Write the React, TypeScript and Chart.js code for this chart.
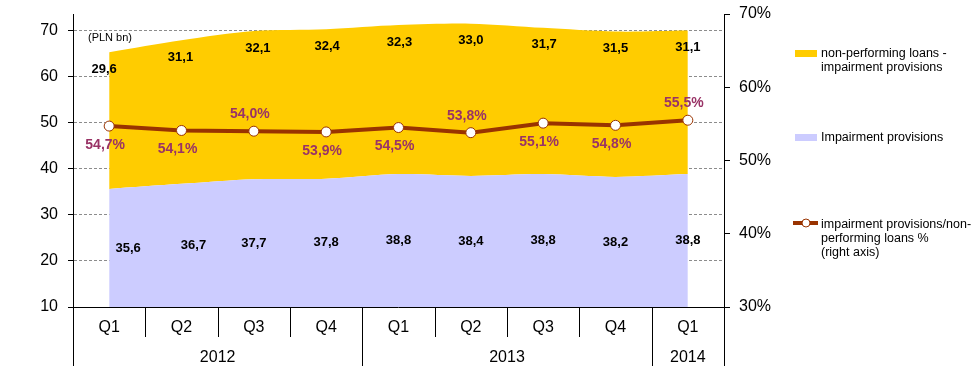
import { useEffect, useRef } from 'react';
import { Chart, registerables } from 'chart.js';

Chart.register(...registerables);

const quarters = ['Q1', 'Q2', 'Q3', 'Q4', 'Q1', 'Q2', 'Q3', 'Q4', 'Q1'];
const yearLabels = ['2012', '2013', '2014'];
const yearSpans = [4, 4, 1];
const impairmentProvisions = [35.6, 36.7, 37.7, 37.8, 38.8, 38.4, 38.8, 38.2, 38.8];
const nplMinusProvisions = [29.6, 31.1, 32.1, 32.4, 32.3, 33.0, 31.7, 31.5, 31.1];
const coverageRatio = [54.7, 54.1, 54.0, 53.9, 54.5, 53.8, 55.1, 54.8, 55.5];
const leftTicks = [10, 20, 30, 40, 50, 60, 70];
const rightTicks = [30, 40, 50, 60, 70];

const FONT = "'Liberation Sans', Arial, sans-serif";
const YELLOW = '#FFCC00';
const LAVENDER = '#CCCCFF';
const LINE = '#993300';
const PCT = '#993366';

const fmt = (v: number) => v.toFixed(1).replace('.', ',');

const overlayPlugin = {
  id: 'overlay',
  afterDatasetsDraw(chart: any) {
    const ctx = chart.ctx;
    const x = chart.scales.x;
    const y = chart.scales.y;
    const y1 = chart.scales.y1;
    ctx.save();
    ctx.textAlign = 'center';
    ctx.textBaseline = 'middle';
    ctx.fillStyle = '#000';
    ctx.font = `bold 13px ${FONT}`;
    const blueDx = [19, 12, 0, 0, 0, 0, 0, 0, 0];
    const yellowDx = [-5, -1, 4, 1, 1, 0, 1, 0, 0];
    impairmentProvisions.forEach((v, i) => {
      const px = x.getPixelForValue(i) + blueDx[i];
      const py = y.getPixelForValue((10 + v) / 2);
      ctx.fillText(fmt(v), px, py);
    });
    nplMinusProvisions.forEach((v, i) => {
      const px = x.getPixelForValue(i) + yellowDx[i];
      const py = y.getPixelForValue(v + impairmentProvisions[i]) + 17;
      ctx.fillText(fmt(v), px, py);
    });
    ctx.fillStyle = PCT;
    ctx.font = `bold 14px ${FONT}`;
    const above = [2, 5, 8];
    coverageRatio.forEach((v, i) => {
      const px = x.getPixelForValue(i) - 4;
      const pyp = y1.getPixelForValue(v);
      const py = above.includes(i) ? pyp - 17 : pyp + 19;
      ctx.fillText(fmt(v) + '%', px, py);
    });
    ctx.restore();
  },
  afterDraw(chart: any) {
    const ctx = chart.ctx;
    const area = chart.chartArea;
    const x = chart.scales.x;
    const H = chart.height;
    const al = (v: number) => Math.round(v) + 0.5;
    ctx.save();
    ctx.strokeStyle = '#000';
    ctx.lineWidth = 1;
    ctx.beginPath();
    ctx.moveTo(area.left, al(area.bottom));
    ctx.lineTo(area.right, al(area.bottom));
    ctx.stroke();
    ctx.beginPath();
    ctx.moveTo(al(area.left), area.bottom);
    ctx.lineTo(al(area.left), H);
    ctx.moveTo(al(area.right), area.bottom);
    ctx.lineTo(al(area.right), H);
    ctx.stroke();
    const yearEnds: number[] = [];
    let acc = 0;
    yearSpans.forEach((s) => { acc += s; yearEnds.push(acc - 1); });
    for (let i = 0; i < quarters.length - 1; i++) {
      const bx = al((x.getPixelForValue(i) + x.getPixelForValue(i + 1)) / 2);
      const full = yearEnds.includes(i);
      ctx.beginPath();
      ctx.moveTo(bx, area.bottom);
      ctx.lineTo(bx, full ? H : area.bottom + 30);
      ctx.stroke();
    }
    ctx.fillStyle = '#000';
    ctx.textAlign = 'center';
    ctx.textBaseline = 'middle';
    ctx.font = `16px ${FONT}`;
    quarters.forEach((q, i) => {
      ctx.fillText(q, x.getPixelForValue(i), area.bottom + 21);
    });
    let start = 0;
    const half = (x.getPixelForValue(1) - x.getPixelForValue(0)) / 2;
    yearLabels.forEach((lab, k) => {
      const end = start + yearSpans[k] - 1;
      const x0 = x.getPixelForValue(start) - half;
      const x1 = x.getPixelForValue(end) + half;
      ctx.fillText(lab, (x0 + x1) / 2, area.bottom + 51);
      start = end + 1;
    });
    ctx.textAlign = 'left';
    ctx.font = `11px ${FONT}`;
    ctx.fillText('(PLN bn)', area.left + 15, area.top + 24);
    const lx = area.right + 71;
    const tx = lx + 26;
    ctx.font = `12.5px ${FONT}`;
    ctx.fillStyle = YELLOW;
    ctx.fillRect(lx, 50, 22, 7);
    ctx.fillStyle = '#000';
    ctx.fillText('non-performing loans -', tx, 54);
    ctx.fillText('impairment provisions', tx, 68);
    ctx.fillStyle = LAVENDER;
    ctx.fillRect(lx, 134, 22, 7);
    ctx.fillStyle = '#000';
    ctx.fillText('Impairment provisions', tx, 138);
    ctx.strokeStyle = LINE;
    ctx.lineWidth = 4;
    ctx.beginPath();
    ctx.moveTo(lx - 2, 223);
    ctx.lineTo(lx + 23, 223);
    ctx.stroke();
    ctx.beginPath();
    ctx.arc(lx + 11, 223, 4, 0, Math.PI * 2);
    ctx.fillStyle = '#fff';
    ctx.fill();
    ctx.lineWidth = 1;
    ctx.stroke();
    ctx.fillStyle = '#000';
    ctx.fillText('impairment provisions/non-', tx, 225);
    ctx.fillText('performing loans %', tx, 239);
    ctx.fillText('(right axis)', tx, 253);
    ctx.restore();
  },
};

export default function App() {
  const ref = useRef<HTMLCanvasElement | null>(null);
  useEffect(() => {
    if (!ref.current) return;
    const chart = new Chart(ref.current, {
      type: 'line',
      data: {
        labels: quarters,
        datasets: [
          {
            label: 'impairment provisions/non-performing loans % (right axis)',
            data: coverageRatio,
            yAxisID: 'y1',
            borderColor: LINE,
            borderWidth: 4,
            pointRadius: 5,
            pointBackgroundColor: '#fff',
            pointBorderColor: LINE,
            pointBorderWidth: 1,
            fill: false,
            tension: 0,
            order: 0,
          },
          {
            label: 'Impairment provisions',
            data: impairmentProvisions,
            yAxisID: 'y',
            backgroundColor: LAVENDER,
            borderWidth: 0,
            pointRadius: 0,
            fill: 'start',
            tension: 0.3,
            order: 1,
          },
          {
            label: 'non-performing loans - impairment provisions',
            data: nplMinusProvisions,
            yAxisID: 'y',
            backgroundColor: YELLOW,
            borderWidth: 0,
            pointRadius: 0,
            fill: '-1',
            tension: 0.3,
            order: 1,
          },
        ],
      },
      options: {
        animation: false,
        responsive: true,
        maintainAspectRatio: false,
        layout: { padding: { top: 14, left: 0, right: 0, bottom: 0 } },
        plugins: { legend: { display: false }, tooltip: { enabled: false } },
        scales: {
          x: {
            type: 'category',
            offset: true,
            grid: { display: false },
            border: { display: false },
            ticks: { display: false },
            afterFit: (s: any) => { s.height = 59; s.paddingLeft = 0; s.paddingRight = 0; },
          },
          y: {
            type: 'linear',
            position: 'left',
            stacked: true,
            min: 10,
            max: 73.5,
            afterBuildTicks: (s: any) => { s.ticks = leftTicks.map((v) => ({ value: v })); },
            afterFit: (s: any) => { s.width = 73; s.paddingTop = 0; s.paddingBottom = 0; },
            grid: {
              color: (c: any) => (c.tick && c.tick.value === 10 ? 'rgba(0,0,0,0)' : '#8c8c8c'),
              lineWidth: 1,
              tickLength: 5,
              tickColor: '#000',
              tickBorderDash: [],
            },
            border: { display: true, color: '#000', dash: [3, 2] },
            ticks: { color: '#000', padding: 10, font: { family: FONT, size: 16 } },
          },
          y1: {
            type: 'linear',
            position: 'right',
            min: 30,
            max: 70,
            afterBuildTicks: (s: any) => { s.ticks = rightTicks.map((v) => ({ value: v })); },
            afterFit: (s: any) => { s.width = 249; s.paddingTop = 0; s.paddingBottom = 0; },
            grid: { drawOnChartArea: false, tickLength: 6, tickColor: '#000', color: '#000' },
            border: { display: true, color: '#000' },
            ticks: {
              color: '#000',
              padding: 9,
              font: { family: FONT, size: 16 },
              callback: (v: any) => v + '%',
            },
          },
        },
      },
      plugins: [overlayPlugin],
    });
    return () => chart.destroy();
  }, []);
  return (
    <div style={{ position: 'absolute', left: 0, top: 0, width: 973, height: 366 }}>
      <canvas ref={ref} />
    </div>
  );
}
